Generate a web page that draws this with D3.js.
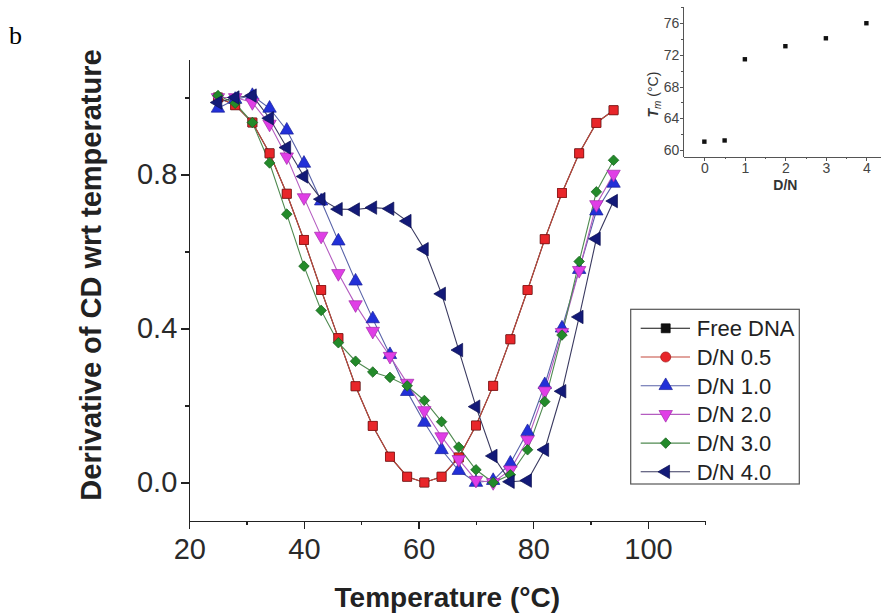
<!DOCTYPE html>
<meta charset="utf-8">
<style>
body { margin: 0; background: #fff; font-family: "Liberation Sans", Arial, sans-serif; }
.axis path, .axis line { fill: none; stroke: #222; stroke-width: 1.3; shape-rendering: crispEdges; }
.axis text { fill: #2a2a2a; font-family: "Liberation Sans", Arial, sans-serif; }
.inset path, .inset line { stroke: #555; stroke-width: 1; }
.inset text { fill: #444; }
</style>
<script src="https://d3js.org/d3.v7.min.js"></script>
<body>
<div id="chart"></div>
<script>
// temperatures (°C) shared by every series
var temps = [25,28,31,34,37,40,43,46,49,52,55,58,61,64,67,70,73,76,79,82,85,88,91,94];

// derivative of CD wrt temperature
var freeDNA = [1.000,0.980,0.935,0.855,0.750,0.630,0.500,0.375,0.250,0.147,0.067,0.015,0.000,0.015,0.065,0.148,0.251,0.372,0.500,0.632,0.752,0.855,0.934,0.967];
var dn05    = [1.000,0.980,0.935,0.855,0.750,0.630,0.500,0.375,0.250,0.147,0.067,0.015,0.000,0.015,0.065,0.148,0.251,0.372,0.500,0.632,0.752,0.855,0.934,0.967];
var dn10    = [0.972,0.995,1.005,0.972,0.915,0.829,0.731,0.627,0.523,0.425,0.332,0.236,0.156,0.085,0.031,0.000,0.005,0.050,0.132,0.254,0.401,0.553,0.705,0.777];
var dn20    = [1.000,1.000,0.987,0.931,0.846,0.740,0.640,0.543,0.462,0.393,0.328,0.258,0.187,0.119,0.060,0.006,0.000,0.033,0.111,0.238,0.390,0.551,0.722,0.801];
var dn30    = [1.005,0.985,0.935,0.830,0.697,0.562,0.447,0.363,0.315,0.287,0.273,0.251,0.213,0.158,0.092,0.033,0.000,0.020,0.085,0.210,0.383,0.574,0.755,0.837];
var dn40    = [0.987,1.000,1.005,0.946,0.870,0.795,0.736,0.710,0.709,0.714,0.711,0.679,0.606,0.490,0.344,0.197,0.069,0.002,0.005,0.085,0.237,0.430,0.633,0.731];

var seriesNames = ["Free DNA","D/N 0.5","D/N 1.0","D/N 2.0","D/N 3.0","D/N 4.0"];

// inset: melting temperature vs D/N
var insetRatio = [0,0.5,1,2,3,4];
var insetTm    = [61.05,61.2,71.45,73.1,74.1,76.0];

var xTicks = [20,40,60,80,100], xMinor = [30,50,70,90,110];
var yTicks = [0,0.4,0.8], yMinor = [0.2,0.6,1.0];
var insetXTicks = [0,1,2,3,4], insetYTicks = [60,64,68,72,76];

var W = 881, H = 615;
var svg = d3.select("#chart").append("svg").attr("width", W).attr("height", H);

var x = d3.scaleLinear().domain([20,110]).range([189.3,705.3]);
var y = d3.scaleLinear().domain([-0.1,1.1]).range([521,59]);

// symbols
var tri = d3.symbol().type(d3.symbolTriangle).size(78)();
var sq  = d3.symbol().type(d3.symbolSquare).size(80)();
var dia = d3.symbol().type(d3.symbolSquare).size(56)();
var circ = d3.symbol().type(d3.symbolCircle).size(80)();

var series = [
  {name: seriesNames[0], vals: freeDNA, fill: "#111", stroke: "#000", line: "#222", path: sq, rot: 0, legendPath: sq},
  {name: seriesNames[1], vals: dn05, fill: "#e8262a", stroke: "#a01818", line: "#c4483c", path: sq, rot: 0, legendPath: circ},
  {name: seriesNames[2], vals: dn10, fill: "#2230d8", stroke: "#1a2098", line: "#5862a8", path: tri, rot: 0, legendPath: tri},
  {name: seriesNames[3], vals: dn20, fill: "#e03ee6", stroke: "#a02ca8", line: "#b45cc0", path: tri, rot: 180, legendPath: tri},
  {name: seriesNames[4], vals: dn30, fill: "#238a2a", stroke: "#16601c", line: "#4f8a50", path: dia, rot: 45, legendPath: dia},
  {name: seriesNames[5], vals: dn40, fill: "#131a78", stroke: "#0a0e50", line: "#3a3a60", path: tri, rot: -90, legendPath: tri}
];

// axes
var gx = svg.append("g").attr("class","axis").attr("transform","translate(0,521)");
gx.call(d3.axisBottom(x).tickValues(xTicks).tickSize(8).tickSizeOuter(0).tickPadding(9));
gx.selectAll("text").style("font-size","29px");
svg.append("g").attr("class","axis").attr("transform","translate(0,521)")
  .call(d3.axisBottom(x).tickValues(xMinor).tickSize(4).tickFormat("").tickSizeOuter(0))
  .select(".domain").remove();

var gy = svg.append("g").attr("class","axis").attr("transform","translate(189.3,0)");
gy.call(d3.axisLeft(y).tickValues(yTicks).tickSize(8).tickSizeOuter(0).tickPadding(4).tickFormat(d3.format(".1f")));
gy.selectAll("text").style("font-size","29px");
svg.append("g").attr("class","axis").attr("transform","translate(189.3,0)")
  .call(d3.axisLeft(y).tickValues(yMinor).tickSize(4).tickFormat("").tickSizeOuter(0))
  .select(".domain").remove();

// axis titles
svg.append("text")
  .attr("x", x(65)).attr("y", 607)
  .attr("text-anchor","middle")
  .style("font-size","28px").style("font-weight","bold").style("fill","#222")
  .text("Temperature (°C)");

svg.append("text")
  .attr("transform","translate(101,275) rotate(-90)")
  .attr("text-anchor","middle")
  .style("font-size","29px").style("font-weight","bold").style("fill","#222")
  .text("Derivative of CD wrt temperature");

// panel letter
svg.append("text").attr("x",9).attr("y",44)
  .style("font-family","'Liberation Serif', 'Times New Roman', serif").style("font-size","26px")
  .text("b");

// lines and markers
var line = d3.line().x(function(d,i){ return x(temps[i]); }).y(function(d){ return y(d); });

series.forEach(function(s){
  svg.append("path").datum(s.vals)
    .attr("d", line)
    .attr("fill","none").attr("stroke", s.line).attr("stroke-width", 1.1);
});
series.forEach(function(s){
  svg.append("g").selectAll("path")
    .data(s.vals).enter().append("path")
    .attr("d", s.path)
    .attr("transform", function(d,i){ return "translate(" + x(temps[i]) + "," + y(d) + ") rotate(" + s.rot + ")"; })
    .attr("fill", s.fill).attr("stroke", s.stroke).attr("stroke-width", 0.7);
});

// legend
var lg = svg.append("g");
lg.append("rect").attr("x",630.7).attr("y",309.3).attr("width",168.6).attr("height",174.7)
  .attr("fill","#fff").attr("stroke","#555").attr("stroke-width",1.2);
series.forEach(function(s,i){
  var ry = 328.3 + i*28.7;
  lg.append("line").attr("x1",640.7).attr("x2",690).attr("y1",ry).attr("y2",ry)
    .attr("stroke", i == 0 ? "#111" : s.line).attr("stroke-width",1.1);
  lg.append("path").attr("d", s.legendPath)
    .attr("transform","translate(665.7," + ry + ") rotate(" + s.rot + ")")
    .attr("fill", s.fill).attr("stroke", s.stroke).attr("stroke-width",0.7);
  lg.append("text").attr("x",696.7).attr("y", ry + 8)
    .style("font-size","22px").style("fill","#222").text(s.name);
});

// inset
var ix = d3.scaleLinear().domain([-0.52,4.4]).range([683.3,882.6]);
var iy = d3.scaleLinear().domain([59.15,78.1]).range([156.7,6.6]);

var igx = svg.append("g").attr("class","axis inset").attr("transform","translate(0,156.7)");
igx.call(d3.axisBottom(ix).tickValues(insetXTicks).tickSize(4).tickSizeOuter(0).tickPadding(2).tickFormat(d3.format("d")));
igx.selectAll("text").style("font-size","14px");
svg.append("g").attr("class","axis inset").attr("transform","translate(0,156.7)")
  .call(d3.axisBottom(ix).tickValues([0.5,1.5,2.5,3.5]).tickSize(2).tickFormat("").tickSizeOuter(0))
  .select(".domain").remove();

var igy = svg.append("g").attr("class","axis inset").attr("transform","translate(683.3,0)");
igy.call(d3.axisLeft(iy).tickValues(insetYTicks).tickSize(3).tickSizeOuter(0).tickPadding(1));
igy.selectAll("text").style("font-size","14px");
svg.append("g").attr("class","axis inset").attr("transform","translate(683.3,0)")
  .call(d3.axisLeft(iy).tickValues([62,66,70,74,78]).tickSize(2).tickFormat("").tickSizeOuter(0))
  .select(".domain").remove();

svg.append("text").attr("x", ix(2)).attr("y", 190)
  .attr("text-anchor","middle")
  .style("font-size","14px").style("font-weight","bold").style("fill","#333")
  .text("D/N");

var tl = svg.append("text")
  .attr("transform","translate(658," + iy(67) + ") rotate(-90)")
  .attr("text-anchor","middle")
  .style("font-size","14px").style("fill","#333");
tl.append("tspan").style("font-style","italic").style("font-weight","bold").text("T");
tl.append("tspan").style("font-style","italic").style("font-size","10px").attr("dy",3).text("m");
tl.append("tspan").attr("dy",-3).text(" (°C)");

svg.append("g").selectAll("rect")
  .data(insetTm).enter().append("rect")
  .attr("x", function(d,i){ return ix(insetRatio[i]) - 2.2; })
  .attr("y", function(d){ return iy(d) - 2.2; })
  .attr("width",4.4).attr("height",4.4)
  .attr("fill","#111");
</script>
</body>
